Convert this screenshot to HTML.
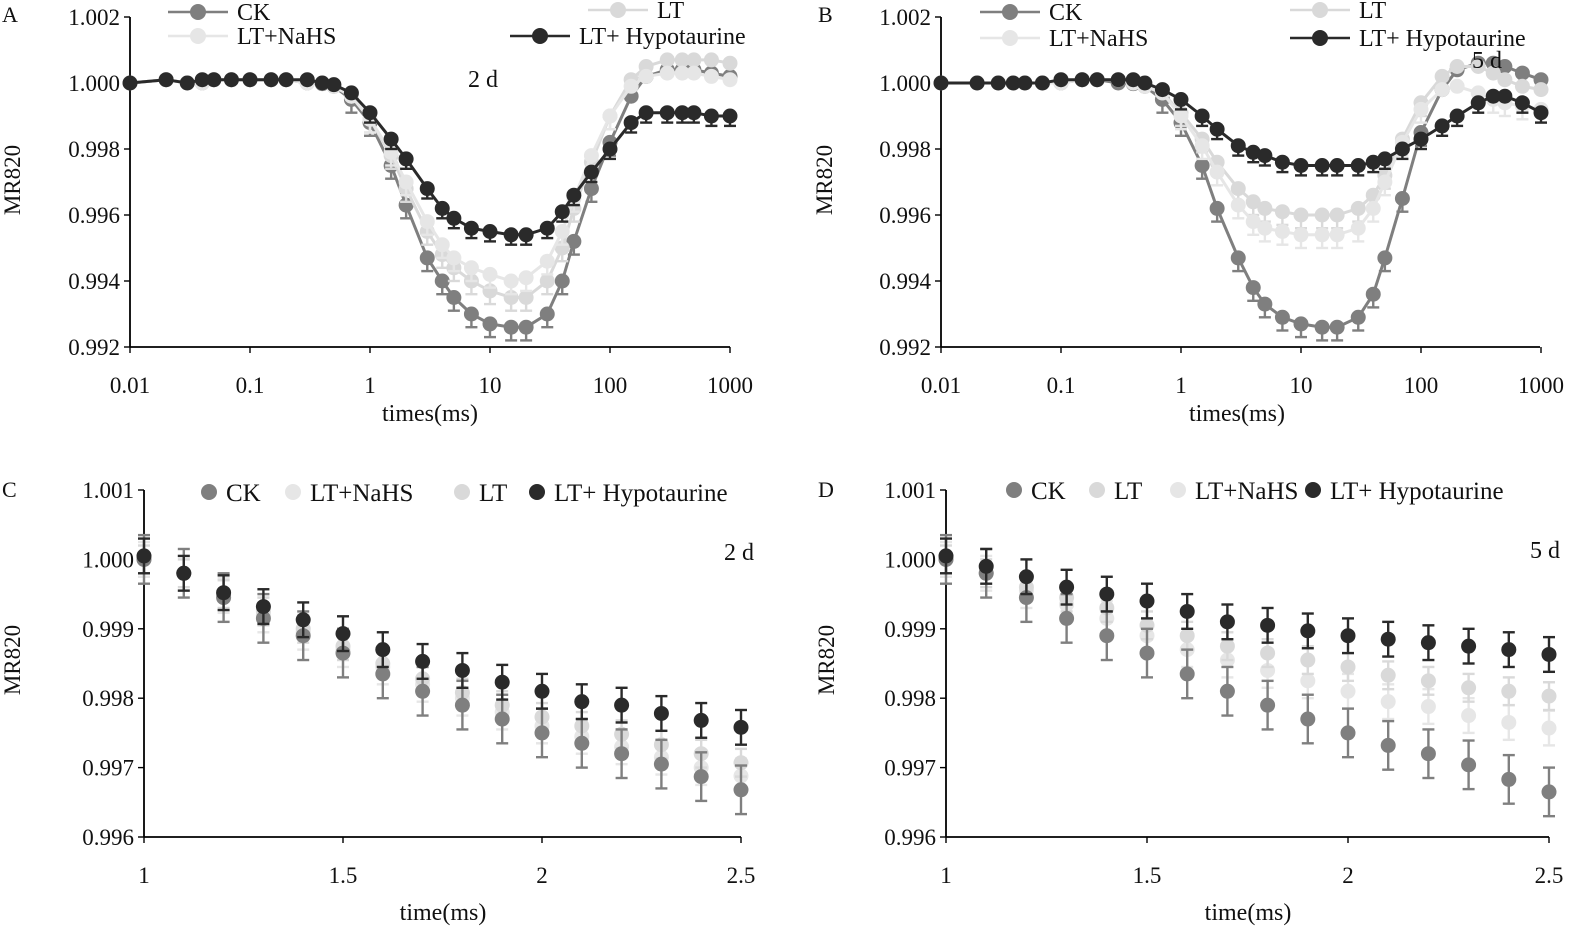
<!DOCTYPE html>
<html><head><meta charset="utf-8">
<style>
html,body{margin:0;padding:0;background:#fff;}
svg{display:block;font-family:"Liberation Serif",serif;}
</style></head>
<body>
<svg id="chart" width="1594" height="941" viewBox="0 0 1594 941" xmlns="http://www.w3.org/2000/svg"></svg>
<script>
// ---------- data: panels A/B (log time) ----------
const timesAB = [0.01,0.02,0.03,0.04,0.05,0.07,0.1,0.15,0.2,0.3,0.4,0.5,0.7,1,1.5,2,3,4,5,7,10,15,20,30,40,50,70,100,150,200,300,400,500,700,1000];
const aCK   = [1.0000,1.0001,1.0000,1.0000,1.0001,1.0001,1.0001,1.0001,1.0001,1.0000,0.99998,0.9999,0.9995,0.9988,0.9975,0.9963,0.9947,0.9940,0.9935,0.9930,0.9927,0.9926,0.9926,0.9930,0.9940,0.9952,0.9968,0.9982,0.9996,1.0002,1.0004,1.0004,1.0004,1.0003,1.0002];
const aLT   = [1.0000,1.0001,1.0000,1.0000,1.0001,1.0001,1.0001,1.0001,1.0001,1.0000,1.0000,0.9999,0.9996,0.9989,0.9978,0.9968,0.9955,0.9948,0.9944,0.9940,0.9937,0.9935,0.9935,0.9940,0.9950,0.9962,0.9976,0.9990,1.0001,1.0005,1.0007,1.0007,1.0007,1.0007,1.0006];
const aNaHS = [1.0000,1.0001,1.0000,1.0000,1.0001,1.0001,1.0001,1.0001,1.0001,1.0000,1.0000,0.9999,0.9996,0.9989,0.9979,0.9970,0.9958,0.9951,0.9947,0.9944,0.9942,0.9940,0.9941,0.9946,0.9955,0.9965,0.9978,0.9990,0.9999,1.0002,1.0003,1.0003,1.0003,1.0002,1.0001];
const aHypo = [1.0000,1.0001,1.0000,1.0001,1.0001,1.0001,1.0001,1.0001,1.0001,1.0001,1.0000,0.99995,0.9997,0.9991,0.9983,0.9977,0.9968,0.9962,0.9959,0.9956,0.9955,0.9954,0.9954,0.9956,0.9961,0.9966,0.9973,0.9980,0.9988,0.9991,0.9991,0.9991,0.9991,0.9990,0.9990];
const bCK   = [1.0000,1.0000,1.0000,1.0000,1.0000,1.0000,1.0000,1.0001,1.0001,1.0000,0.99998,0.9999,0.9995,0.9988,0.9975,0.9962,0.9947,0.9938,0.9933,0.9929,0.9927,0.9926,0.9926,0.9929,0.9936,0.9947,0.9965,0.9985,0.9998,1.0004,1.0006,1.0006,1.0005,1.0003,1.0001];
const bLT   = [1.0000,1.0000,1.0000,1.0000,1.0000,1.0000,1.0000,1.0001,1.0001,1.0001,1.0000,0.9999,0.9997,0.9991,0.9983,0.9976,0.9968,0.9964,0.9962,0.9961,0.9960,0.9960,0.9960,0.9962,0.9966,0.9972,0.9983,0.9994,1.0002,1.0005,1.0005,1.0003,1.0001,0.9999,0.9998];
const bNaHS = [1.0000,1.0000,1.0000,1.0000,1.0000,1.0000,1.0000,1.0001,1.0001,1.0001,1.0000,0.9999,0.9997,0.9990,0.9981,0.9973,0.9963,0.9958,0.9956,0.9955,0.9954,0.9954,0.9954,0.9956,0.9962,0.9970,0.9982,0.9992,0.9998,0.9999,0.9997,0.9995,0.9994,0.9993,0.9992];
const bHypo = [1.0000,1.0000,1.0000,1.0000,1.0000,1.0000,1.0001,1.0001,1.0001,1.0001,1.0001,1.0000,0.9998,0.9995,0.9990,0.9986,0.9981,0.9979,0.9978,0.9976,0.9975,0.9975,0.9975,0.9975,0.9976,0.9977,0.9980,0.9983,0.9987,0.9990,0.9994,0.9996,0.9996,0.9994,0.9991];
const errAB = {CK:0.0004, LT:0.0004, NaHS:0.0004, Hypo:0.0003};
const logTickLabels = ["0.01","0.1","1","10","100","1000"];
const yTickLabelsAB = ["0.992","0.994","0.996","0.998","1.000","1.002"];

// ---------- data: panels C/D (linear time) ----------
const timesCD = [1.0,1.1,1.2,1.3,1.4,1.5,1.6,1.7,1.8,1.9,2.0,2.1,2.2,2.3,2.4,2.5];
const cCK   = [1.0000,0.9998,0.99945,0.99915,0.9989,0.99865,0.99835,0.9981,0.9979,0.9977,0.9975,0.99735,0.9972,0.99705,0.99687,0.99668];
const cNaHS = [1.0000,0.9998,0.99948,0.9992,0.99895,0.9987,0.99845,0.9982,0.998,0.9978,0.9976,0.99745,0.9973,0.99715,0.997,0.99688];
const cLT   = [1.0000,0.9998,0.9995,0.99925,0.999,0.99875,0.9985,0.99828,0.99808,0.9979,0.99773,0.9976,0.99748,0.99733,0.9972,0.99707];
const cHypo = [1.00005,0.9998,0.99952,0.99932,0.99913,0.99893,0.9987,0.99853,0.9984,0.99823,0.9981,0.99795,0.9979,0.99778,0.99768,0.99758];
const dCK   = [1.0000,0.9998,0.99945,0.99915,0.9989,0.99865,0.99835,0.9981,0.9979,0.9977,0.9975,0.99732,0.9972,0.99704,0.99683,0.99665];
const dLT   = [1.0000,0.9998,0.9996,0.99945,0.9993,0.99905,0.9989,0.99875,0.99865,0.99855,0.99845,0.99833,0.99825,0.99815,0.9981,0.99803];
const dNaHS = [1.0000,0.9998,0.99955,0.99935,0.99915,0.9989,0.9987,0.99855,0.9984,0.99825,0.9981,0.99795,0.99788,0.99775,0.99765,0.99757];
const dHypo = [1.00005,0.9999,0.99975,0.9996,0.9995,0.9994,0.99925,0.9991,0.99905,0.99897,0.9989,0.99885,0.9988,0.99875,0.9987,0.99863];
const errCD = {CK:0.00035, LT:0.0002, NaHS:0.00025, Hypo:0.00025};
const linTickLabels = ["1","1.5","2","2.5"];
const yTickLabelsCD = ["0.996","0.997","0.998","0.999","1.000","1.001"];

const COL = {CK:"#7f7f7f", LT:"#d9d9d9", NaHS:"#e6e6e6", Hypo:"#2a2a2a"};

const svg = document.getElementById('chart');
const NS = "http://www.w3.org/2000/svg";
function mk(tag, attrs, parent){
  const e = document.createElementNS(NS, tag);
  for (const k in attrs) e.setAttribute(k, attrs[k]);
  (parent||svg).appendChild(e);
  return e;
}
function txt(s, x, y, size, anchor, parent){
  const t = mk('text', {x:x, y:y, 'font-size':size, 'text-anchor':anchor||'start', fill:'#111'}, parent);
  t.textContent = s;
  return t;
}

function panel(cfg){
  const g = mk('g', {});
  
  
  const xs = cfg.xScale, ys = cfg.yScale;
  const ya = mk('line', {x1:cfg.x0, y1:cfg.yTop, x2:cfg.x0, y2:cfg.yBot, stroke:'#000','stroke-width':1.8}, g);
  
  
  const xa = mk('line', {x1:cfg.x0, y1:cfg.yBot, x2:cfg.x1, y2:cfg.yBot, stroke:'#000','stroke-width':1.8}, g);
  
  
  cfg.yLabels.forEach(function(l){
    const y = ys(parseFloat(l));
    mk('line', {x1:cfg.x0-6, y1:y, x2:cfg.x0, y2:y, stroke:'#000','stroke-width':1.4}, g);
    const t = txt(l, cfg.x0-10, y+8, 23, 'end', g);
    
    
  });
  cfg.xLabels.forEach(function(l){
    const x = xs(parseFloat(l));
    mk('line', {x1:x, y1:cfg.yBot, x2:x, y2:cfg.yBot+6, stroke:'#000','stroke-width':1.4}, g);
    const t = txt(l, x, cfg.yBot+46, 23, 'middle', g);
    
    
  });
  cfg.series.forEach(function(s){
    const sg = mk('g', {}, g);
    
    
    const c = COL[s.key];
    const err = cfg.err[s.key];
    s.vals.forEach(function(v, i){
      const x = xs(cfg.times[i]);
      const yA = ys(v + (cfg.lines ? 0 : err)), yB = ys(v - err);
      if (cfg.lines && v > 0.9995) return;
      mk('line', {x1:x, y1:yA, x2:x, y2:yB, stroke:c, 'stroke-width':2.4}, sg);
      mk('line', {x1:x-6, y1:yB, x2:x+6, y2:yB, stroke:c, 'stroke-width':2.4}, sg);
      if (!cfg.lines) mk('line', {x1:x-6, y1:yA, x2:x+6, y2:yA, stroke:c, 'stroke-width':2.4}, sg);
    });
    if (cfg.lines){
      const pts = s.vals.map(function(v,i){ return xs(cfg.times[i]) + ',' + ys(v); }).join(' ');
      mk('polyline', {points:pts, fill:'none', stroke:c, 'stroke-width':3}, sg);
    }
    s.vals.forEach(function(v, i){
      const p = mk('circle', {cx:xs(cfg.times[i]), cy:ys(v), r:cfg.r, fill:c}, sg);
      
      
    });
  });
  cfg.legend.forEach(function(L){
    const lg = mk('g', {}, g);
    
    
    const c = COL[L.key];
    if (L.lx1 !== undefined){
      mk('line', {x1:L.lx1, y1:L.y, x2:L.lx1+60, y2:L.y, stroke:c, 'stroke-width':2.5}, lg);
      mk('circle', {cx:L.lx1+30, cy:L.y, r:8, fill:c}, lg);
      txt(L.label, L.lx1+69, L.y+8, 24, 'start', lg);
    } else {
      mk('circle', {cx:L.mx, cy:L.y, r:8, fill:c}, lg);
      txt(L.label, L.mx+17, L.y+9, 25, 'start', lg);
    }
  });
  const d = txt(cfg.dayText, cfg.dayX, cfg.dayY, 24, 'start', g);
  
  
  const pl = txt(cfg.letter, cfg.letterX, cfg.letterY, 22, 'start', g);
  
  
  const yt = txt('MR820', 0, 0, 23, 'middle', g);
  yt.setAttribute('transform', 'translate(' + cfg.yTitleX + ',' + cfg.yTitleY + ') rotate(-90)');
  
  
  const xt = txt(cfg.xTitle, cfg.xTitleX, cfg.xTitleY, 24, 'middle', g);
  
  
}

function logScale(x0, perDec){ return function(t){ return x0 + perDec * (Math.log10(t) + 2); }; }
function linY(top, bot, vTop, vBot){ return function(v){ return top + (vTop - v) / (vTop - vBot) * (bot - top); }; }
function linX(x0, x1, a, b){ return function(t){ return x0 + (t - a) / (b - a) * (x1 - x0); }; }

panel({name:'panel-a', x0:130, x1:730, yTop:17, yBot:347, xScale:logScale(130,120), yScale:linY(17,347,1.002,0.992),
  times:timesAB, lines:true, r:7.5, err:errAB, xLabels:logTickLabels, yLabels:yTickLabelsAB,
  series:[{key:'CK',vals:aCK},{key:'LT',vals:aLT},{key:'NaHS',vals:aNaHS},{key:'Hypo',vals:aHypo}],
  legend:[{key:'CK',label:'CK',lx1:168,y:12},{key:'LT',label:'LT',lx1:588,y:10},{key:'NaHS',label:'LT+NaHS',lx1:168,y:36},{key:'Hypo',label:'LT+ Hypotaurine',lx1:510,y:36}],
  dayText:'2 d', dayX:468, dayY:87, letter:'A', letterX:2, letterY:22, yTitleX:20, yTitleY:180,
  xTitle:'times(ms)', xTitleX:430, xTitleY:421});

panel({name:'panel-b', x0:941, x1:1540, yTop:17, yBot:347, xScale:logScale(941,120), yScale:linY(17,347,1.002,0.992),
  times:timesAB, lines:true, r:7.5, err:errAB, xLabels:logTickLabels, yLabels:yTickLabelsAB,
  series:[{key:'CK',vals:bCK},{key:'LT',vals:bLT},{key:'NaHS',vals:bNaHS},{key:'Hypo',vals:bHypo}],
  legend:[{key:'CK',label:'CK',lx1:980,y:12},{key:'LT',label:'LT',lx1:1290,y:10},{key:'NaHS',label:'LT+NaHS',lx1:980,y:38},{key:'Hypo',label:'LT+ Hypotaurine',lx1:1290,y:38}],
  dayText:'5 d', dayX:1472, dayY:68, letter:'B', letterX:818, letterY:22, yTitleX:832, yTitleY:180,
  xTitle:'times(ms)', xTitleX:1237, xTitleY:421});

panel({name:'panel-c', x0:144, x1:741, yTop:490, yBot:837, xScale:linX(144,741,1,2.5), yScale:linY(490,837,1.001,0.996),
  times:timesCD, lines:false, r:7.5, err:errCD, xLabels:linTickLabels, yLabels:yTickLabelsCD,
  series:[{key:'NaHS',vals:cNaHS},{key:'LT',vals:cLT},{key:'CK',vals:cCK},{key:'Hypo',vals:cHypo}],
  legend:[{key:'CK',label:'CK',mx:209,y:492},{key:'NaHS',label:'LT+NaHS',mx:293,y:492},{key:'LT',label:'LT',mx:462,y:492},{key:'Hypo',label:'LT+ Hypotaurine',mx:537,y:492}],
  dayText:'2 d', dayX:724, dayY:560, letter:'C', letterX:2, letterY:497, yTitleX:20, yTitleY:660,
  xTitle:'time(ms)', xTitleX:443, xTitleY:920});

panel({name:'panel-d', x0:946, x1:1549, yTop:490, yBot:837, xScale:linX(946,1549,1,2.5), yScale:linY(490,837,1.001,0.996),
  times:timesCD, lines:false, r:7.5, err:errCD, xLabels:linTickLabels, yLabels:yTickLabelsCD,
  series:[{key:'NaHS',vals:dNaHS},{key:'LT',vals:dLT},{key:'CK',vals:dCK},{key:'Hypo',vals:dHypo}],
  legend:[{key:'CK',label:'CK',mx:1014,y:490},{key:'LT',label:'LT',mx:1097,y:490},{key:'NaHS',label:'LT+NaHS',mx:1178,y:490},{key:'Hypo',label:'LT+ Hypotaurine',mx:1313,y:490}],
  dayText:'5 d', dayX:1530, dayY:558, letter:'D', letterX:818, letterY:497, yTitleX:834, yTitleY:660,
  xTitle:'time(ms)', xTitleX:1248, xTitleY:920});
</script>
</body></html>
